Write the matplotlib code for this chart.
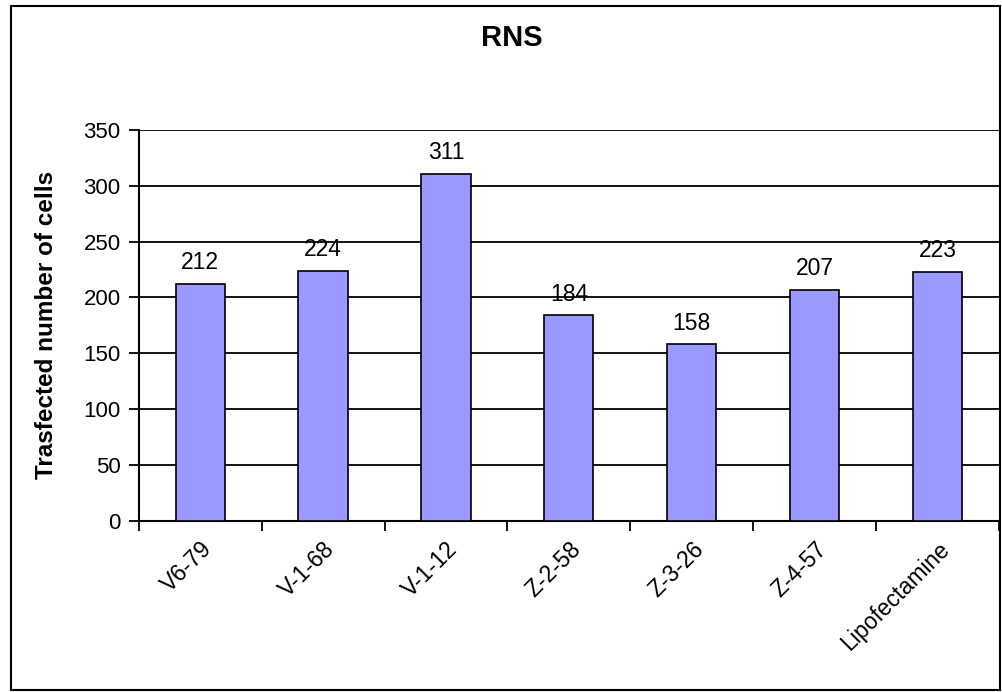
import matplotlib.pyplot as plt
from matplotlib.patches import Rectangle
from matplotlib.ticker import FixedLocator, NullFormatter
from matplotlib.transforms import ScaledTranslation

plt.rcParams['font.family'] = ['Liberation Sans', 'DejaVu Sans']

names = ["V6-79", "V-1-68", "V-1-12", "Z-2-58", "Z-3-26", "Z-4-57", "Lipofectamine"]
cells = [212, 224, 311, 184, 158, 207, 223]

fig = plt.figure(figsize=(10.03, 6.92), dpi=100)
ax = fig.add_axes([138.7 / 1003, 1 - 520.7 / 692, (999 - 138.7) / 1003, (520.7 - 130) / 692])

x = list(range(len(names)))
ax.bar(x, cells, width=0.4, color="#9999FF", edgecolor="black", linewidth=1.2, zorder=3)
for xi, v in zip(x, cells):
    ax.annotate(str(v), (xi, v), xytext=(0, 7), textcoords="offset points",
                ha="center", va="bottom", fontsize=16.5)

ax.set_xlim(-0.5, len(names) - 0.5)
ax.set_ylim(0, 350)
ax.set_yticks(range(0, 351, 50))
ax.yaxis.grid(True, color="black", linewidth=1.3, zorder=0)
ax.set_axisbelow(True)

ax.set_xticks(x)
ax.set_xticklabels(names, rotation=45, ha="right", va="top", rotation_mode="anchor", fontsize=16.5)
shift = ScaledTranslation(-5 / 100, 0, fig.dpi_scale_trans)
for lab in ax.get_xticklabels():
    lab.set_transform(lab.get_transform() + shift)
ax.tick_params(axis="x", which="major", length=0, pad=12)
ax.xaxis.set_minor_locator(FixedLocator([i - 0.5 for i in range(len(names) + 1)]))
ax.xaxis.set_minor_formatter(NullFormatter())
ax.tick_params(axis="x", which="minor", length=7, width=1.3, direction="out")
ax.tick_params(axis="y", length=7, width=1.3, labelsize=16, pad=6)

for s in ["top", "right"]:
    ax.spines[s].set_visible(False)
for s in ["left", "bottom"]:
    ax.spines[s].set_linewidth(1.5)

ax.set_ylabel("Trasfected number of cells", fontsize=17.5, fontweight="bold")
ax.yaxis.set_label_coords(-0.094, 0.5)
fig.text(0.51, 1 - 38 / 692, "RNS", ha="center", va="center", fontsize=21, fontweight="bold")

fig.patches.append(Rectangle((11 / 1003, 1 - 690 / 692), 989 / 1003, 684 / 692,
                             transform=fig.transFigure, fill=False, edgecolor="black", linewidth=1.5))

fig.savefig("out.png", dpi=100)
